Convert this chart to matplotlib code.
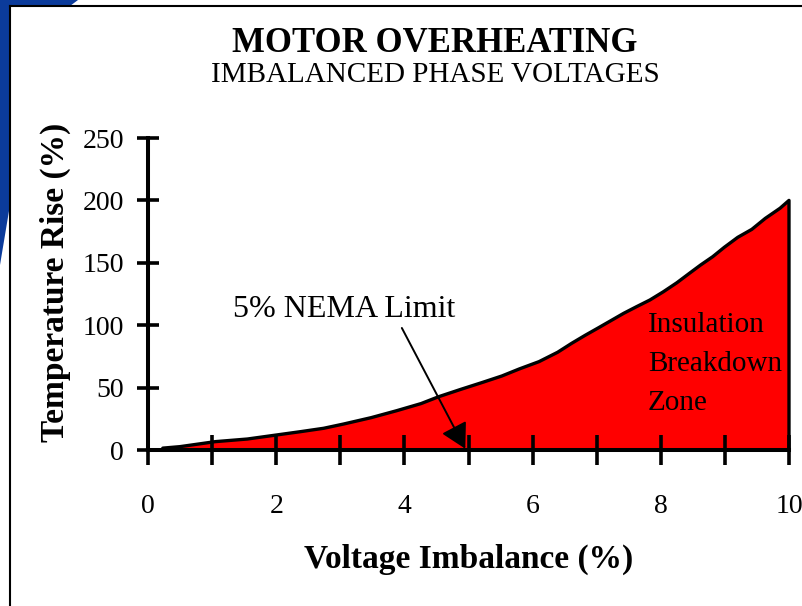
import matplotlib
matplotlib.use('Agg')
import matplotlib.pyplot as plt
from matplotlib.patches import Polygon
from matplotlib.lines import Line2D

# Data
imbalance = [0.23, 0.5, 1.05, 1.55, 2.0, 2.38, 2.74, 3.05, 3.48, 3.88,
             4.26, 4.54, 4.88, 5.22, 5.52, 5.79, 6.10, 6.39, 6.61, 6.82,
             7.03, 7.22, 7.42, 7.62, 7.83, 8.04, 8.25, 8.46, 8.62, 8.81,
             8.99, 9.20, 9.42, 9.63, 9.86, 10.0]
temp_rise = [1.5, 2.7, 6.7, 8.8, 12, 14.7, 17.4, 20.8, 25.9, 31.5,
             37.2, 42.8, 48.6, 54.2, 59.3, 64.9, 70.8, 78.3, 85.5, 91.9,
             98, 103.6, 109.5, 114.8, 120.2, 126.8, 134, 142.1, 148.2, 154.9,
             162.4, 170.4, 176.8, 185.6, 193.7, 200]
x_ticks = [0, 2, 4, 6, 8, 10]
x_minor = [1, 3, 5, 7, 9]
y_ticks = [0, 50, 100, 150, 200, 250]
nema_limit = 4.95

plt.rcParams['font.family'] = ['Liberation Serif', 'DejaVu Serif']

W, H = 803, 606
fig = plt.figure(figsize=(W / 100, H / 100), dpi=100)


def fx(px):
    return px / W


def fy(py):
    return 1 - py / H


# Blue swoosh and frame in the top-left corner
swoosh = [(0, 0), (78, 0), (70, 6), (10, 6), (10, 205), (0, 265)]
fig.patches.append(Polygon([(fx(a), fy(b)) for a, b in swoosh], closed=True,
                           facecolor='#0b3b9b', edgecolor='none',
                           transform=fig.transFigure))
fig.lines.append(Line2D([fx(10), fx(10)], [fy(6), 0], color='black', lw=1.5,
                        transform=fig.transFigure))
fig.lines.append(Line2D([fx(10), 1], [fy(6), fy(6)], color='black', lw=1.5,
                        transform=fig.transFigure))

# Axes placement
ax = fig.add_axes([fx(148), fy(450), fx(789) - fx(148), fy(138) - fy(450)])
ax.set_xlim(0, 10)
ax.set_ylim(0, 250)

# Red area under the curve with black outline
ax.fill(imbalance + [imbalance[-1], imbalance[0]], temp_rise + [0, 0],
        facecolor='#ff0000', edgecolor='black', linewidth=2.4,
        joinstyle='round', clip_on=False, zorder=1)

for s in ['top', 'right']:
    ax.spines[s].set_visible(False)
for s in ['left', 'bottom']:
    ax.spines[s].set_linewidth(2.9)

ax.set_xticks(x_ticks)
ax.set_xticks(x_minor, minor=True)
ax.set_yticks(y_ticks)
ax.tick_params(axis='x', which='both', direction='inout', length=22, width=2.6,
               labelsize=20, pad=21)
ax.tick_params(axis='y', which='both', direction='inout', length=16.5,
               width=2.6, labelsize=20, pad=9)

ax.set_xlabel('Voltage Imbalance (%)', fontsize=24, fontweight='bold')
ax.xaxis.set_label_coords(0.50, -0.300)
ax.set_ylabel('Temperature Rise (%)', fontsize=24, fontweight='bold')
ax.yaxis.set_label_coords(-0.120, 0.538)

# Titles
fig.text(fx(435), fy(52), 'MOTOR OVERHEATING', fontsize=25,
         fontweight='bold', ha='center', va='baseline')
fig.text(fx(435), fy(82), 'IMBALANCED PHASE VOLTAGES', fontsize=21,
         ha='center', va='baseline')

# Annotations
ax.annotate('5% NEMA Limit', xy=(nema_limit, 1), xytext=(3.06, 106.6),
            fontsize=23, ha='center', va='baseline',
            arrowprops=dict(arrowstyle='-|>,head_length=0.9,head_width=0.5',
                            color='black', lw=1.4, relpos=(0.75, 0),
                            shrinkA=1, shrinkB=0, mutation_scale=17))
ax.text(7.80, 110.6, 'Insulation\nBreakdown\nZone', fontsize=21,
        ha='left', va='top', linespacing=1.65, color='black')

fig.savefig('out.png', dpi=100)
